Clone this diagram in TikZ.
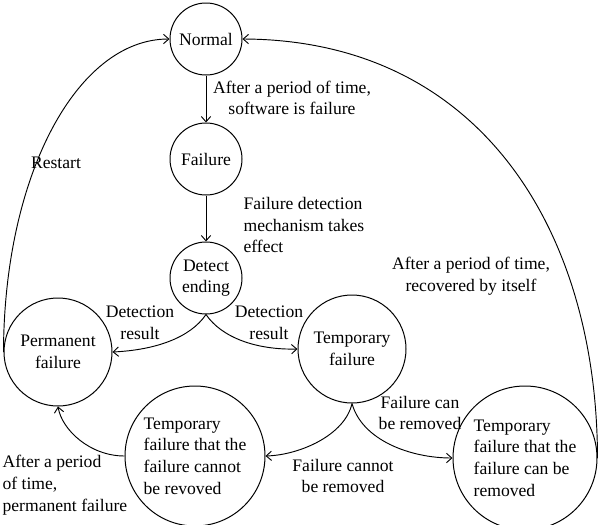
\documentclass[tikz,border=0pt]{standalone}
\usepackage{fontspec}
\setmainfont{Liberation Serif}
\usetikzlibrary{arrows.meta}
\begin{document}
\begin{tikzpicture}[x=0.75pt,y=-0.75pt,
  font=\fontsize{13.2pt}{16.3pt}\selectfont,
  state/.style={circle,draw,line width=0.75pt,inner sep=0pt,minimum size=#1},
  lbl/.style={inner sep=1pt},
  conn/.style={draw,line width=0.7pt,-{Straight Barb[length=4pt,width=7pt]}}]
\useasboundingbox (0,0) rectangle (600,525);
\node[state=54pt] (normal) at (206,39) {Normal};
\node[state=54pt] (failure) at (206,159) {Failure};
\node[state=54pt,align=center] (detect) at (206,278) {Detect\\ending};
\node[state=81pt,align=center] (perm) at (58,352) {Permanent\\failure};
\node[state=81pt,align=center] (temp) at (352,349) {Temporary\\failure};
\node[state=105pt,align=left] (tcannot) at (195,456) {Temporary\\failure that the\\failure cannot\\be revoved};
\node[state=108pt,align=left] (tcan) at (525,458) {Temporary\\failure that the\\failure can be\\removed};

\node[lbl,align=center] (l1) at (292,98) {After a period of time,\\software is failure};
\node[lbl,align=left,anchor=west] (l2) at (242,225) {Failure detection\\mechanism takes\\effect};
\node[lbl] (l3) at (56,163) {Restart};
\node[lbl,align=center] (l4) at (140,323) {Detection\\result};
\node[lbl,align=center] (l5) at (269,323) {Detection\\result};
\node[lbl,align=center] (l6) at (471,276) {After a period of time,\\recovered by itself};
\node[lbl,align=center] (l7) at (420,413) {Failure can\\be removed};
\node[lbl,align=center] (l8) at (343,476) {Failure cannot\\be removed};
\node[lbl,align=left,anchor=west] (l9) at (1,485) {After a period\\of time,\\permanent failure};

\draw[conn] (normal) -- (failure);
\draw[conn] (failure) -- (detect);
\draw[conn] (detect.south) .. controls (190,338) and (155,350) .. (perm.east);
\draw[conn] (detect.south) .. controls (222,338) and (257,350) .. (temp.west);
\draw[conn] (temp.south) .. controls (345,435) and (300,455) .. (tcannot.east);
\draw[conn] (temp.south) .. controls (362,440) and (410,458) .. (tcan.west);
\draw[conn] (tcannot.west) .. controls (90,456) and (62,430) .. (perm.south);
\draw[conn] (perm.west) .. controls (4,175) and (77,39) .. (normal.west);
\draw[conn] (tcan.east) .. controls (597,230) and (480,40) .. (normal.east);
\end{tikzpicture}
\end{document}
